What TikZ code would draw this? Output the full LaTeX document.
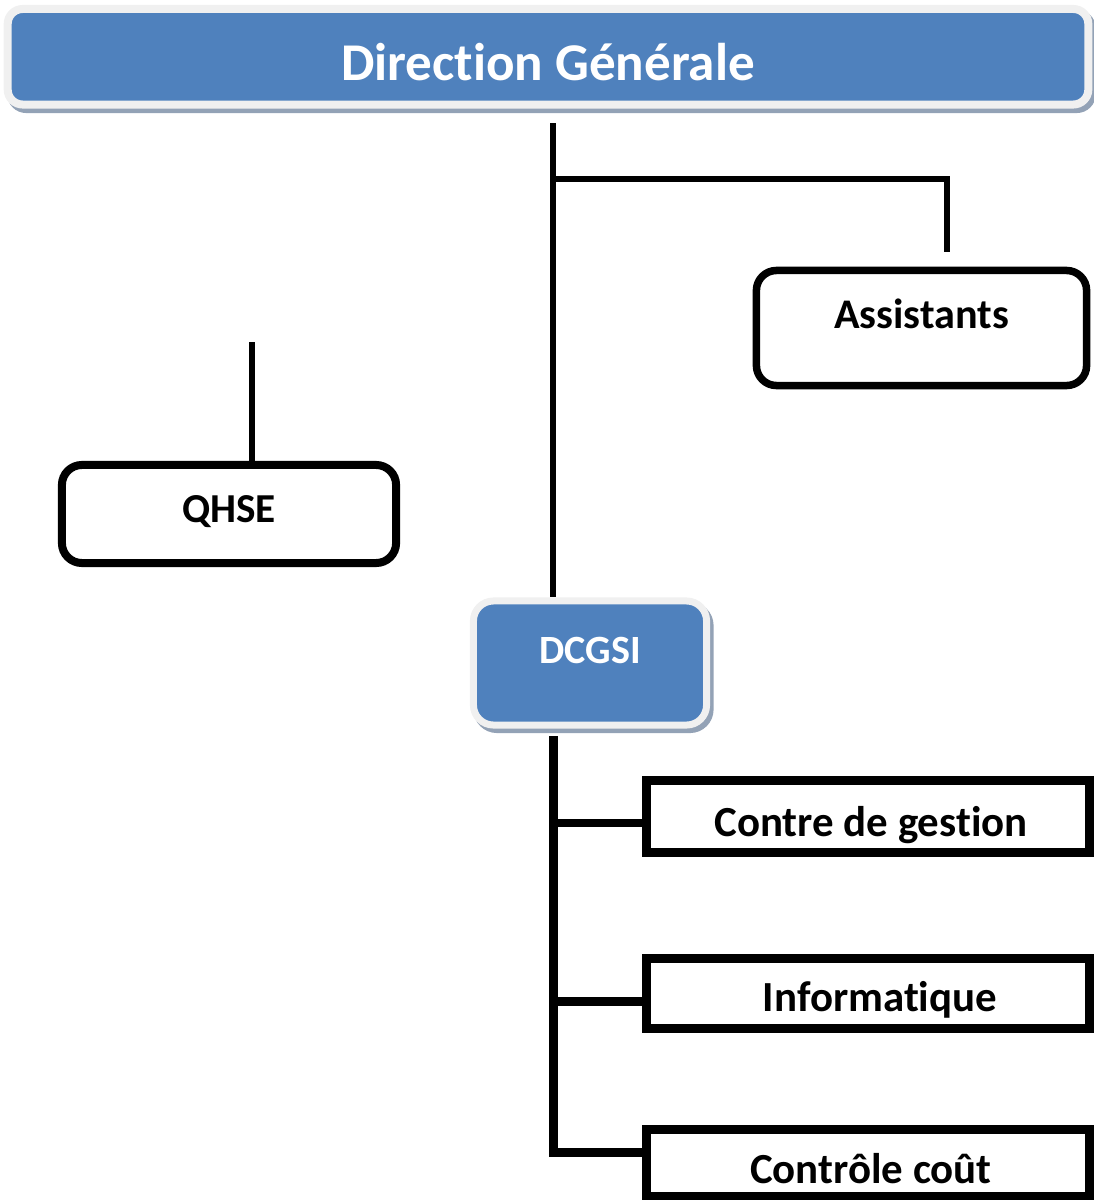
\documentclass[tikz,border=0pt]{standalone}
\usepackage{fontspec}
\setmainfont{Carlito}[RawFeature={-liga;-clig;-calt;-dlig}]
\usetikzlibrary{backgrounds}

\definecolor{boxblue}{HTML}{4F81BD}
\definecolor{rimgray}{HTML}{F0F0F0}
\definecolor{shadegray}{HTML}{93A2B6}

% keep "t" and "i" as separate glyphs
\newcommand{\tisep}{\kern0pt}

\tikzset{
  headbox/.style={draw=rimgray, fill=boxblue, text=white, inner sep=0pt,
    preaction={draw=shadegray, fill=shadegray,
      transform canvas={xshift=0.035cm, yshift=-0.045cm}}},
  unitbox/.style={draw=black, fill=white, line width=0.08cm,
    rounded corners=0.2cm, inner sep=0pt, text depth=0pt},
  deptbox/.style={draw=black, fill=white, line width=0.09cm,
    inner sep=0pt, text depth=0pt, minimum width=4.425cm,
    font=\bfseries\fontsize{12.2}{14}\selectfont},
  link/.style={draw=black, line width=0.06cm},
  heavylink/.style={draw=black, line width=0.088cm},
}

\begin{document}
\begin{tikzpicture}[x=0.01cm, y=-0.01cm]
\useasboundingbox (0,0) rectangle (1094,1200);

% top management banner
\node[headbox, line width=0.08cm, rounded corners=0.15cm,
  minimum width=10.8cm, minimum height=0.955cm,
  text height=0.465cm, text depth=0pt,
  font=\bfseries\fontsize{15.1}{18}\selectfont] (dg) at (548,56.75) {Direct\tisep ion Générale};

% DCGSI
\node[headbox, line width=0.07cm, rounded corners=0.2cm,
  minimum width=2.33cm, minimum height=1.24cm,
  text height=0pt, text depth=0pt,
  font=\bfseries\fontsize{11.4}{14}\selectfont] (dcgsi) at (590,663) {DCGSI};

% staff units
\node[unitbox, minimum width=3.34cm, minimum height=0.98cm, text height=0.174cm,
  font=\bfseries\fontsize{11.7}{14}\selectfont] (qhse) at (229,514) {QHSE};
\node[unitbox, line width=0.075cm, minimum width=3.30cm, minimum height=1.15cm,
  text height=0pt, font=\bfseries\fontsize{12}{14}\selectfont] (asst) at (921.5,328) {Assistants};

% departments under DCGSI
\node[deptbox, minimum height=0.71cm, text height=0.39cm] (cg) at (868,816.5) {\hspace*{0.06cm}Contre de gest\tisep ion};
\node[deptbox, minimum height=0.69cm, text height=0.36cm] (info) at (868,993.5) {\hspace*{0.24cm}Informat\tisep ique};
\node[deptbox, minimum height=0.665cm, text height=0.40cm] (cc) at (868,1163) {\hspace*{0.06cm}Contrôle coût};

% connectors
\coordinate (trunktop) at (553,123);
\coordinate (asstbend) at (553,179);
\coordinate (asstend) at (947,252);
\coordinate (qtop) at (252,342);
\coordinate (ltop) at (553.5,736);
\coordinate (b1) at (553.5,823);
\coordinate (b2) at (553.5,1001.5);
\coordinate (b3) at (553.5,1152.5);

\begin{pgfonlayer}{background}
  \draw[link] (trunktop) -- (trunktop |- dcgsi.north);
  \draw[link] (asstbend) -| (asstend);
  \draw[link] (qtop) -- (qtop |- qhse.north);
  \draw[heavylink] (ltop) -- (b3) -- (b3 -| cc.west);
  \draw[heavylink] (b1) -- (b1 -| cg.west);
  \draw[heavylink] (b2) -- (b2 -| info.west);
\end{pgfonlayer}
\end{tikzpicture}
\end{document}
